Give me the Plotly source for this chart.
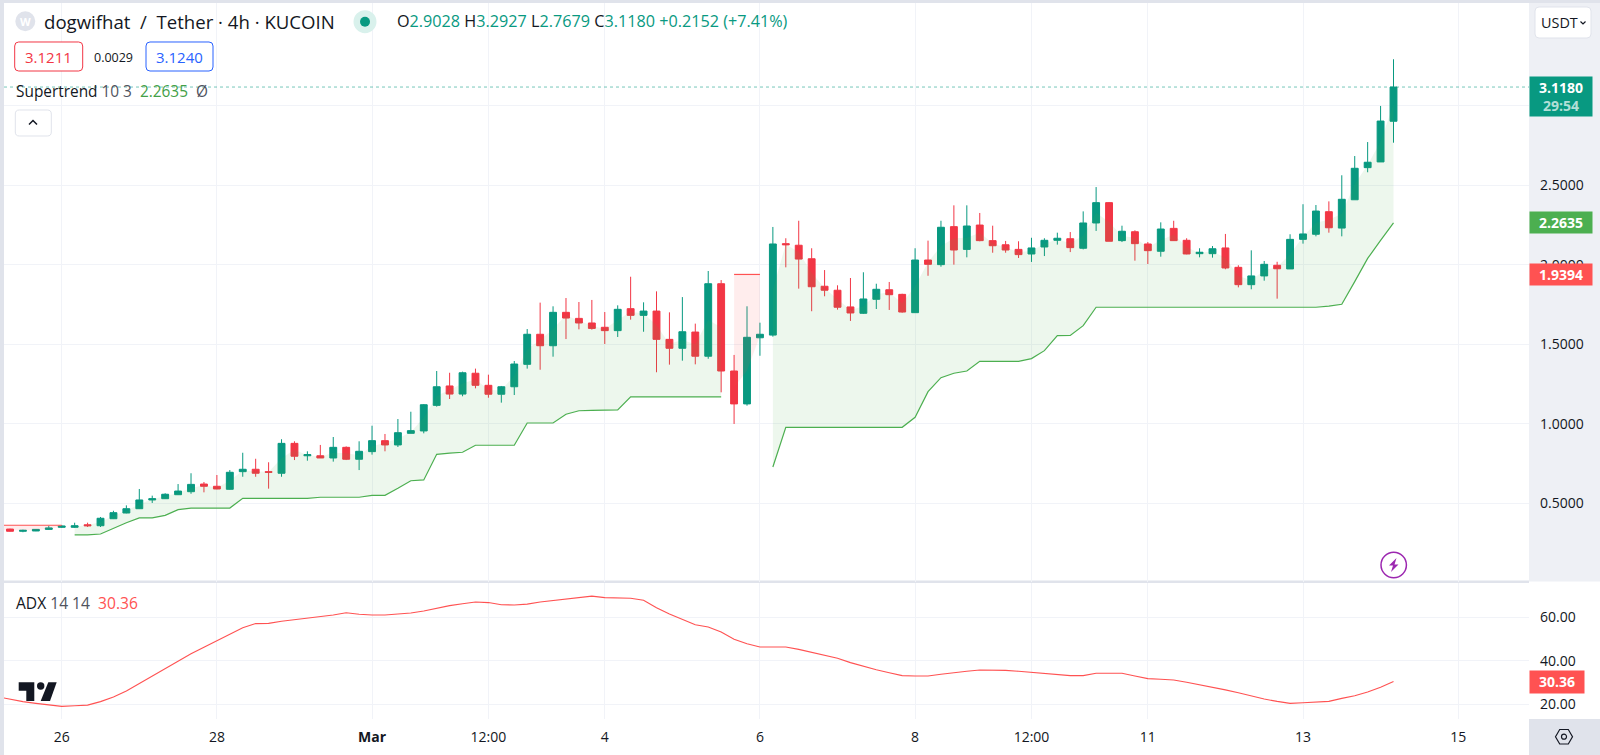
import plotly.graph_objects as go

# ---------- data ----------
opens = [.338,.324,.326,.336,.349,.349,.365,.359,.403,.439,.466,.521,.529,.554,.573,.621,.607,.588,.699,.714,
         .699,.689,.877,.799,.799,.785,.852,.777,.825,.894,.867,.940,.955,1.116,1.238,1.187,1.318,1.242,1.186,1.233,
         1.374,1.563,1.491,1.701,1.663,1.634,1.607,1.586,1.724,1.682,1.709,1.531,1.475,1.577,1.425,1.881,1.332,1.125,1.541,1.558,
         2.133,2.123,2.038,1.865,1.840,1.735,1.695,1.783,1.843,1.814,1.699,2.030,2.001,2.240,2.097,2.250,2.152,2.126,2.097,2.068,
         2.112,2.154,2.164,2.104,2.263,2.391,2.152,2.208,2.131,2.085,2.229,2.154,2.070,2.070,2.106,1.984,1.875,1.930,1.997,1.974,
         2.160,2.192,2.334,2.231,2.409,2.611,2.647,2.9028]
highs = [.340,.334,.337,.359,.363,.378,.378,.414,.453,.487,.590,.548,.563,.621,.689,.634,.678,.709,.818,.780,
         .758,.903,.890,.827,.867,.917,.858,.890,.988,.936,1.030,1.076,1.124,1.332,1.321,1.328,1.347,1.309,1.238,1.395,
         1.596,1.762,1.739,1.791,1.766,1.779,1.703,1.745,1.925,1.764,1.833,1.701,1.797,1.630,1.961,1.904,1.433,1.739,1.636,2.238,
         2.167,2.277,2.104,1.967,1.871,1.917,1.953,1.881,1.892,1.818,2.104,2.152,2.277,2.374,2.374,2.326,2.246,2.150,2.148,2.170,
         2.167,2.202,2.206,2.336,2.489,2.395,2.246,2.217,2.143,2.267,2.277,2.167,2.104,2.118,2.194,1.997,2.091,2.024,2.019,2.192,
         2.381,2.376,2.399,2.563,2.684,2.772,2.999,3.2927]
lows = [.322,.318,.325,.333,.345,.345,.351,.351,.401,.437,.464,.502,.527,.552,.560,.569,.588,.586,.667,.667,
        .592,.667,.772,.768,.785,.762,.772,.709,.806,.827,.854,.940,.940,1.108,1.156,1.173,1.223,1.164,1.133,1.181,
        1.347,1.340,1.422,1.533,1.594,1.592,1.502,1.546,1.655,1.579,1.324,1.372,1.397,1.374,1.409,1.198,.999,1.114,1.428,1.548,
        1.984,1.850,1.708,1.802,1.718,1.647,1.691,1.722,1.716,1.699,1.699,1.931,1.988,2.001,2.047,2.148,2.076,2.076,2.043,2.018,
        2.055,2.127,2.080,2.097,2.213,2.148,2.143,2.026,2.005,2.051,2.150,2.066,2.047,2.045,1.972,1.858,1.846,1.900,1.787,1.974,
        2.133,2.179,2.202,2.179,2.409,2.582,2.647,2.7679]
closes = [.324,.330,.336,.345,.357,.359,.359,.406,.441,.466,.521,.529,.557,.577,.619,.607,.590,.695,.714,.689,
          .695,.877,.796,.806,.785,.852,.777,.827,.894,.867,.944,.957,1.120,1.233,1.187,1.321,1.242,1.186,1.233,1.376,
          1.563,1.491,1.701,1.665,1.634,1.600,1.586,1.720,1.682,1.709,1.531,1.475,1.579,1.425,1.881,1.332,1.125,1.544,1.563,2.131,
          2.126,2.036,1.862,1.840,1.733,1.697,1.785,1.846,1.812,1.703,2.030,2.003,2.236,2.093,2.244,2.152,2.120,2.093,2.064,2.106,
          2.154,2.167,2.108,2.263,2.391,2.148,2.211,2.133,2.089,2.225,2.152,2.068,2.079,2.101,1.980,1.875,1.930,2.003,1.975,2.160,
          2.194,2.338,2.233,2.412,2.607,2.645,2.904,3.1180]

supertrend = [.362,.362,.362,.362,.362,
              .301,.301,.307,.345,.378,.408,.408,.424,.460,.470,.470,.470,.470,.531,.531,
              .531,.531,.531,.531,.538,.538,.538,.538,.550,.550,.594,.642,.647,.808,.816,.821,.865,.865,.865,.865,
              1.005,1.005,1.005,1.060,1.082,1.084,1.087,1.087,1.169,1.169,1.169,1.169,1.169,1.169,1.169,1.169,
              1.9394,1.9394,1.9394,
              .728,.978,.978,.978,.978,.978,.978,.978,.978,.978,.978,1.041,1.202,1.290,1.318,1.332,1.393,1.393,1.393,1.393,
              1.410,1.460,1.554,1.556,1.617,1.733,1.733,1.733,1.733,1.733,1.733,1.733,1.733,1.733,1.733,1.733,1.733,1.733,
              1.733,1.733,1.733,1.733,1.733,1.74,1.752,1.894,2.040,2.153,2.2635]
trend_runs = [(0, 5, "down"), (5, 56, "up"), (56, 59, "down"), (59, 108, "up")]

adx_start = -1
adx = [23.4,22.2,21.1,20.3,19.5,18.9,19.2,19.5,21.1,23.2,26.0,29.5,32.9,36.5,39.8,43.2,46.2,49.2,52.3,55.2,57.1,
       57.2,58.2,58.9,59.5,60.1,61.1,62.1,61.4,61.1,61.1,61.5,62.0,62.9,64.2,65.4,66.3,67.1,66.8,65.8,65.7,
       66.1,67.1,67.7,68.5,69.2,69.8,69.1,68.8,68.8,67.9,64.4,61.5,59.1,56.6,55.5,53.2,49.9,47.8,46.3,46.3,
       46.3,45.2,43.9,42.6,41.1,39.1,37.4,35.8,34.4,33.1,32.9,32.9,33.7,34.5,35.1,35.7,35.7,35.5,35.1,34.6,
       34.2,33.8,33.1,33.1,34.2,34.2,34.2,32.9,31.7,31.4,31.1,30.0,28.9,27.8,26.5,25.2,23.7,22.3,21.2,20.3,
       20.6,20.9,21.2,22.6,23.8,25.5,27.7,30.36]

time_tick_pos = [4, 16, 28, 37, 46, 58, 70, 79, 88, 100, 112]
time_tick_txt = ["26", "28", "<b>Mar</b>", "12:00", "4", "6", "8", "12:00", "11", "13", "15"]
price_ticks = [0.5, 1.0, 1.5, 2.0, 2.5, 3.0]
price_tick_txt = ["0.5000", "1.0000", "1.5000", "2.0000", "2.5000", ""]
adx_ticks = [20, 40, 60]
bid, spread, ask = "3.1211", "0.0029", "3.1240"
other_tag = 1.9394
day_change = "+0.2152 (+7.41%)"

# ---------- style ----------
W, H = 1600, 755
FONT = "Open Sans"
UP, DOWN = "#089981", "#f23645"
ST_UP, ST_DOWN = "#4caf50", "#ff5252"
GRID = "#f1f3f8"
PANEL = "#eef0f5"
EDGE = "#e0e3eb"
INK = "#131722"
MUTED = "#50535e"

def fx(px): return px / W
def fy(py): return 1 - py / H

LEFT, RIGHT, TOP, SPLIT, BOTTOM = 4, 1529, 3, 581.5, 719
PX_PER_BAR, BAR0 = 12.93, 10
xr = [(LEFT - BAR0) / PX_PER_BAR, (RIGHT - BAR0) / PX_PER_BAR]

idx = list(range(len(closes)))
mids = [(o + c) / 2 for o, c in zip(opens, closes)]

fig = go.Figure()

for a, b, kind in trend_runs:
    xs, st, md = idx[a:b], supertrend[a:b], mids[a:b]
    if a == 0:
        xs, st, md = [-1] + xs, st[:1] + st, md[:1] + md
    col = ST_UP if kind == "up" else ST_DOWN
    fillc = "rgba(76,175,80,0.10)" if kind == "up" else "rgba(255,82,82,0.10)"
    fig.add_trace(go.Scatter(x=xs, y=md, mode="lines", line=dict(width=0), hoverinfo="skip", xaxis="x", yaxis="y"))
    fig.add_trace(go.Scatter(x=xs, y=st, mode="lines", line=dict(color=col, width=1.2), fill="tonexty",
                             fillcolor=fillc, xaxis="x", yaxis="y"))

fig.add_trace(go.Scatter(x=[xr[0], xr[1]], y=[closes[-1], closes[-1]], mode="lines",
                         line=dict(color="rgba(8,153,129,0.55)", width=1, dash="dot"), xaxis="x", yaxis="y"))

fig.add_trace(go.Candlestick(x=idx, open=opens, high=highs, low=lows, close=closes, xaxis="x", yaxis="y",
                             whiskerwidth=0,
                             increasing=dict(line=dict(color=UP, width=1), fillcolor=UP),
                             decreasing=dict(line=dict(color=DOWN, width=1), fillcolor=DOWN)))

fig.add_trace(go.Scatter(x=list(range(adx_start, len(closes))), y=adx, mode="lines",
                         line=dict(color=ST_DOWN, width=1.1), xaxis="x2", yaxis="y2"))

def rrect(x0, y0, x1, y1, r=4):
    X = lambda v: f"{fx(v):.6f}"
    Y = lambda v: f"{fy(v):.6f}"
    return (f"M{X(x0+r)},{Y(y0)} L{X(x1-r)},{Y(y0)} Q{X(x1)},{Y(y0)} {X(x1)},{Y(y0+r)} "
            f"L{X(x1)},{Y(y1-r)} Q{X(x1)},{Y(y1)} {X(x1-r)},{Y(y1)} L{X(x0+r)},{Y(y1)} "
            f"Q{X(x0)},{Y(y1)} {X(x0)},{Y(y1-r)} L{X(x0)},{Y(y0+r)} Q{X(x0)},{Y(y0)} {X(x0+r)},{Y(y0)} Z")

def poly(points, close=True):
    s = "M" + " L".join(f"{fx(x):.6f},{fy(y):.6f}" for x, y in points)
    return s + (" Z" if close else "")

def rect(x0, y0, x1, y1, fill, layer="below"):
    return dict(type="rect", xref="paper", yref="paper", x0=fx(x0), x1=fx(x1), y0=fy(y0), y1=fy(y1),
                fillcolor=fill, line=dict(width=0), layer=layer)

def circle(cx, cy, r, fill="rgba(0,0,0,0)", line=None, lw=0, layer="above"):
    return dict(type="circle", xref="paper", yref="paper", x0=fx(cx - r), x1=fx(cx + r), y0=fy(cy - r), y1=fy(cy + r),
                fillcolor=fill, line=dict(color=line, width=lw) if line else dict(width=0), layer=layer)

def path(d, fill="rgba(0,0,0,0)", line=None, lw=0, layer="above"):
    return dict(type="path", xref="paper", yref="paper", path=d, fillcolor=fill,
                line=dict(color=line, width=lw) if line else dict(width=0), layer=layer)

shapes = [
    rect(0, 0, LEFT, H, EDGE),
    rect(0, 0, W, TOP, EDGE),
    rect(RIGHT, TOP, W, SPLIT, PANEL),
    rect(LEFT, 580.5, RIGHT, 583, EDGE),
    rect(RIGHT, BOTTOM, W, H, EDGE),
    # symbol logo and market status
    circle(25.3, 21.3, 10, EDGE),
    circle(365, 21.7, 11.5, "#d9f1ec"),
    circle(365, 21.7, 5, UP),
    # bid / ask boxes
    path(rrect(14.7, 42, 82.7, 71), "#ffffff", DOWN, 1),
    path(rrect(146, 42, 213, 71), "#ffffff", "#2962ff", 1),
    # collapse button
    path(rrect(15.3, 110, 51.3, 136), "#ffffff", EDGE, 1),
    path(poly([(29, 124.5), (33, 120.5), (37, 124.5)], close=False), line=INK, lw=1.5),
    # currency button
    path(rrect(1535, 7, 1591, 38), "#ffffff", EDGE, 1),
    path(poly([(1580.5, 21.5), (1583, 24), (1585.5, 21.5)], close=False), line=INK, lw=1.2),
    # lightning badge
    circle(1393.7, 565, 12.7, "#ffffff", "#9c27b0", 1.5),
    path(poly([(1396.5, 558), (1389, 565.5), (1393, 565.5), (1391, 572), (1398.5, 564.5), (1394.5, 564.5)]),
         "#9c27b0"),
    # watermark
    path(poly([(18.7, 682.3), (34.3, 682.3), (34.3, 701), (26.3, 701), (26.3, 690.7), (18.7, 690.7)]), INK, layer="below"),
    circle(40.7, 686, 3.7, INK, layer="below"),
    path(poly([(48.3, 682.3), (56.7, 682.3), (50, 701), (40.7, 701)]), INK, layer="below"),
    # settings hexagon
    path(poly([(1555.5, 736.7), (1559.7, 729.5), (1568.3, 729.5), (1572.5, 736.7), (1568.3, 744), (1559.7, 744)]),
         line=INK, lw=1.2),
    circle(1564, 736.7, 2.5, line=INK, lw=1.2),
]

def note(x, y, text, size=15, color=INK, anchor="left", **kw):
    return dict(xref="paper", yref="paper", x=fx(x), y=fy(y), text=text, showarrow=False, xanchor=anchor,
                yanchor="middle", align=anchor, font=dict(family=FONT, size=size, color=color),
                borderpad=0, **kw)

def span(t, c): return f"<span style='color:{c}'>{t}</span>"

o_, h_, l_, c_ = opens[-1], highs[-1], lows[-1], closes[-1]
ohlc = (f"O{span(f'{o_:.4f}', UP)} H{span(f'{h_:.4f}', UP)} L{span(f'{l_:.4f}', UP)} "
        f"C{span(f'{c_:.4f}', UP)} {span(day_change, UP)}")

annotations = [
    note(25.3, 21.5, "<b>W</b>", 11, "#ffffff", "center"),
    note(43, 21.5, "dogwifhat  /  Tether · 4h · KUCOIN", 18.6),
    note(396, 21.5, ohlc, 16.2),
    note(48.7, 57, bid, 15, DOWN, "center"),
    note(114, 57, spread, 12.5, INK, "center"),
    note(179.5, 57, ask, 15, "#2962ff", "center"),
    note(15, 91, f"Supertrend {span('10 3', MUTED)}  {span(f'{supertrend[-1]:.4f}', '#43a047')}  {span('Ø', MUTED)}", 15.4),
    note(15, 602.5, f"ADX {span('14 14', MUTED)}  {span(f'{adx[-1]:.2f}', ST_DOWN)}", 15.6),
    note(1540, 22.5, "USDT", 14.4, INK),
]

def tag(value, axis, text, bg, width, height, shift=0):
    return dict(xref="paper", yref=axis, x=fx(RIGHT), y=value, text=text, showarrow=False, xanchor="left",
                yanchor="middle", yshift=shift, width=width, height=height, bgcolor=bg, align="center", valign="middle",
                font=dict(family=FONT, size=14, color="#ffffff"), borderpad=0)

annotations += [
    tag(c_, "y", f"<b>{c_:.4f}</b><br><span style='color:rgba(255,255,255,0.7)'><b>29:54</b></span>", UP, 62, 38.6, -9),
    tag(supertrend[-1], "y", f"<b>{supertrend[-1]:.4f}</b>", ST_UP, 62, 20.6),
    tag(other_tag, "y", f"<b>{other_tag:.4f}</b>", ST_DOWN, 62, 21.4),
    tag(adx[-1], "y2", f"<b>{adx[-1]:.2f}</b>", ST_DOWN, 54, 21.6),
]

tickfont = dict(family=FONT, size=14, color=INK)
xcommon = dict(range=xr, domain=[fx(LEFT), fx(RIGHT)], tickmode="array", tickvals=time_tick_pos,
               showgrid=True, gridcolor=GRID, gridwidth=1, zeroline=False, showline=False, ticks="",
               rangeslider=dict(visible=False), automargin=False)

fig.update_layout(
    width=W, height=H, margin=dict(l=0, r=0, t=0, b=0, autoexpand=False),
    paper_bgcolor="#ffffff", plot_bgcolor="#ffffff", showlegend=False, hovermode=False, dragmode=False, boxgap=0.24,
    xaxis=dict(**xcommon, anchor="y", showticklabels=False),
    xaxis2=dict(**xcommon, anchor="y2", ticktext=time_tick_txt, showticklabels=True, tickfont=tickfont,
                ticklabelstandoff=8),
    yaxis=dict(domain=[fy(SPLIT), fy(TOP)], range=[(582.8 - SPLIT) / 159, (582.8 - TOP) / 159], side="right",
               anchor="x", tickmode="array", tickvals=price_ticks, ticktext=price_tick_txt,
               tickfont=tickfont, showgrid=True, gridcolor=GRID, zeroline=False, ticks="", showline=False,
               ticklabelstandoff=10, automargin=False),
    yaxis2=dict(domain=[fy(BOTTOM), fy(583)], range=[20 + (704 - BOTTOM) / 2.167, 20 + (704 - 583) / 2.167], side="right",
                anchor="x2", tickmode="array", tickvals=adx_ticks, ticktext=[f"{t:.2f}" for t in adx_ticks],
                tickfont=tickfont, showgrid=True, gridcolor=GRID, zeroline=False, ticks="", showline=False,
                ticklabelstandoff=10, automargin=False),
    shapes=shapes, annotations=annotations,
)

fig.write_html("out.html", config=dict(displayModeBar=False, staticPlot=True),
               post_script="document.body.style.margin='0';document.documentElement.style.overflow='hidden';")
